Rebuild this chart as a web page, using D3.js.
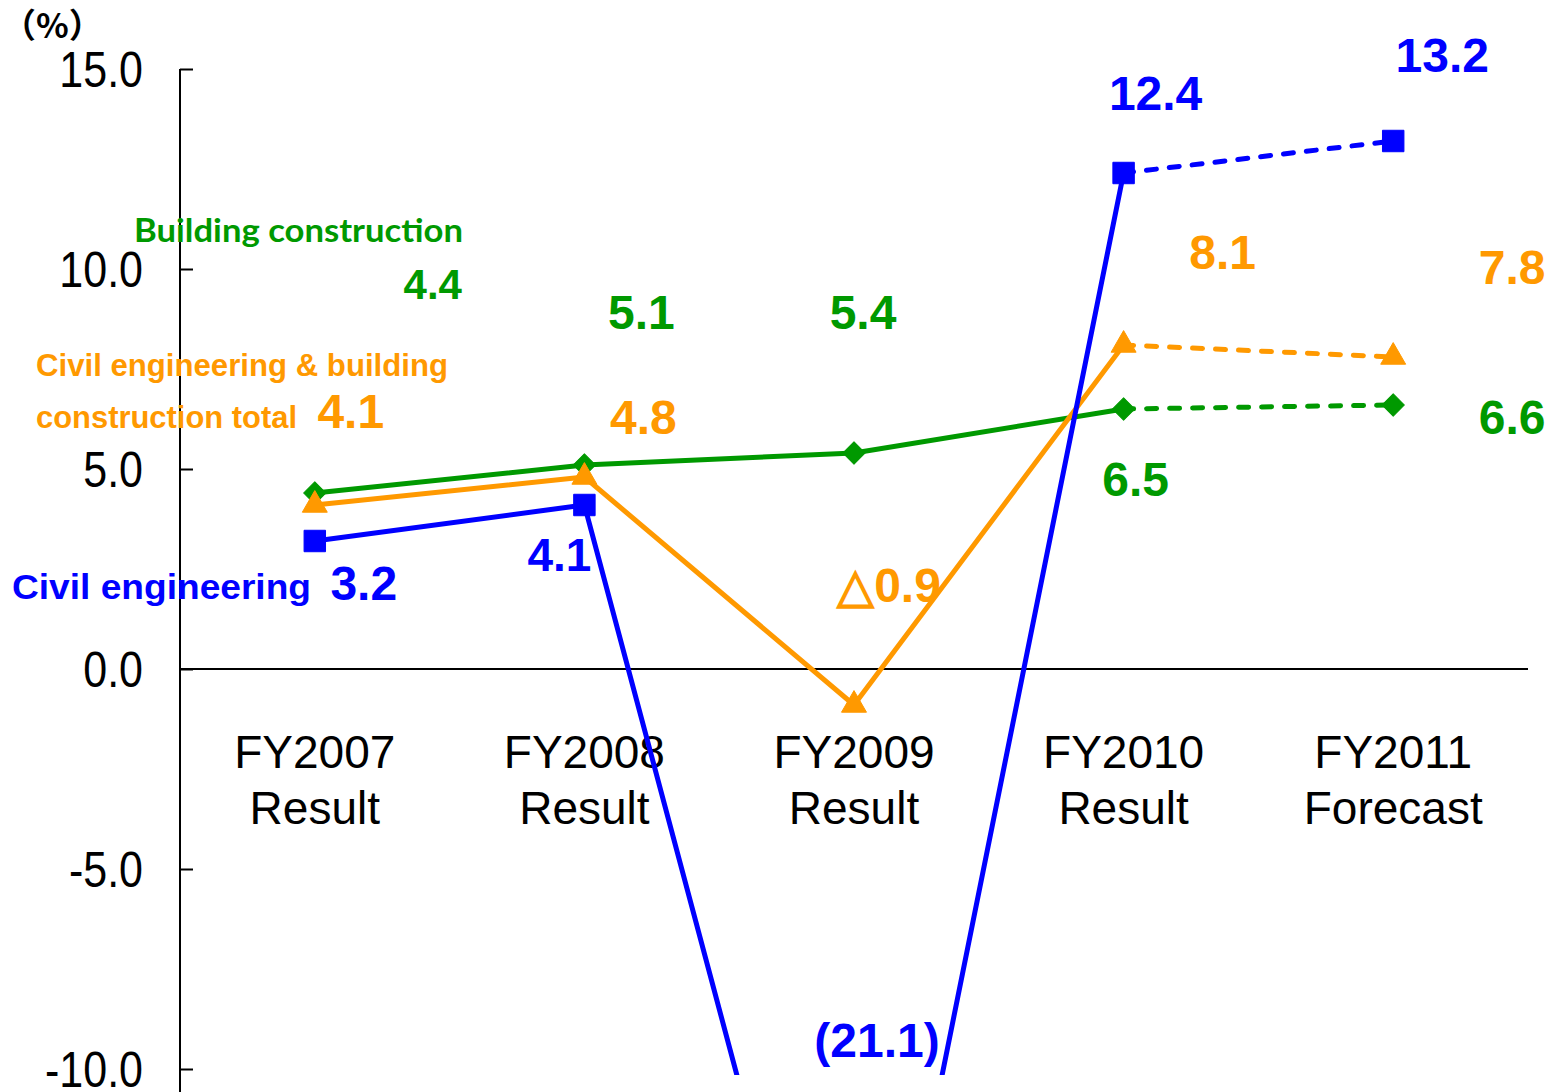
<!DOCTYPE html>
<html><head><meta charset="utf-8">
<script src="https://cdn.jsdelivr.net/npm/d3@7"></script>
<style>body{margin:0;background:#fff}svg{display:block}</style>
</head><body>
<svg id="c" width="1556" height="1092"></svg>
<script>
const categories = ["FY2007|Result","FY2008|Result","FY2009|Result","FY2010|Result","FY2011|Forecast"];
const civilEngineering = [3.2, 4.1, -21.1, 12.4, 13.2];
const totalConstruction = [4.1, 4.8, -0.9, 8.1, 7.8];
const buildingConstruction = [4.4, 5.1, 5.4, 6.5, 6.6];
const civilLabels = ["3.2","4.1","(21.1)","12.4","13.2"];
const totalLabels = ["4.1","4.8","△0.9","8.1","7.8"];
const buildingLabels = ["4.4","5.1","5.4","6.5","6.6"];
const yTicks = [15, 10, 5, 0, -5, -10];

// label layout: offsets relative to each point, and font sizes
const civilOff = [[49,59],[-25,66],[23,-456],[32,-63],[49,-69]];
const totalOff = [[36,-77],[59,-43],[35,-103],[99,-76],[119,-73]];
const buildOff = [[118,-194],[57,-136],[9,-124],[12,87],[119,29]];
const civilSize = [48,46,48,48,48];
const totalSize = [48,48,48,48,48];
const buildSize = [42,48,48,48,48];

const svg = d3.select("#c");
const x = d3.scaleBand().domain(categories).range([180,1528]).padding(0);
const cx = c => x(c) + x.bandwidth()/2;
const y = d3.scaleLinear().domain([-10,15]).range([1069,69]);

svg.append("defs").append("clipPath").attr("id","clip")
  .append("rect").attr("x",0).attr("y",0).attr("width",1556).attr("height",1075);

// y axis
const ya = svg.append("g").attr("transform","translate(180,0)")
  .call(d3.axisLeft(y).tickValues(yTicks).tickSize(-13).tickFormat(d=>d.toFixed(1)));
ya.select(".domain").attr("stroke","#000").attr("stroke-width",2).attr("d","M0,69V1092");
ya.selectAll(".tick line").attr("stroke","#000").attr("stroke-width",2);
ya.selectAll(".tick text").attr("x",0).attr("dy","0.35em")
  .attr("transform","translate(-37,0) scale(0.86,1)")
  .attr("font-family","'Liberation Sans', Arial, sans-serif").attr("font-size",50).attr("fill","#000");

// zero line
svg.append("line").attr("x1",180).attr("x2",1528).attr("y1",y(0)).attr("y2",y(0))
  .attr("stroke","#000").attr("stroke-width",2);

// (%)
svg.append("text").attr("x",2).attr("y",38).text("（%）")
  .attr("font-family","'Noto Sans CJK JP', sans-serif").attr("font-weight","bold").attr("font-size",34).attr("fill","#000");

// category labels
const cat = svg.append("g");
categories.forEach(c => {
  const parts = c.split("|");
  const t = cat.append("text").attr("text-anchor","middle")
    .attr("font-family","'Liberation Sans', Arial, sans-serif").attr("font-size",46).attr("fill","#000");
  t.append("tspan").attr("x",cx(c)).attr("y",768).text(parts[0]);
  t.append("tspan").attr("x",cx(c)).attr("y",824).text(parts[1]);
});

const series = [
  {vals: buildingConstruction, color:"#009900", sym:"diamond", labels: buildingLabels, off: buildOff, size: buildSize},
  {vals: totalConstruction, color:"#FF9900", sym:"triangle", labels: totalLabels, off: totalOff, size: totalSize},
  {vals: civilEngineering, color:"#0000FF", sym:"square", labels: civilLabels, off: civilOff, size: civilSize},
];

const plot = svg.append("g").attr("clip-path","url(#clip)");
const line = d3.line().x(d=>cx(d.c)).y(d=>y(d.v));
series.forEach(s => {
  const pts = categories.map((c,i)=>({c, v:s.vals[i]}));
  plot.append("path").datum(pts.slice(0,4)).attr("d",line)
    .attr("fill","none").attr("stroke",s.color).attr("stroke-width",5).attr("stroke-linejoin","round");
  plot.append("path").datum(pts.slice(3)).attr("d",line)
    .attr("fill","none").attr("stroke",s.color).attr("stroke-width",5)
    .attr("stroke-dasharray","10,13").attr("stroke-linecap","round");
});
series.forEach(s => {
  const pts = categories.map((c,i)=>({c, v:s.vals[i]}));
  let gen, rot = 0;
  if (s.sym==="square") gen = d3.symbol(d3.symbolSquare, 460);
  else if (s.sym==="triangle") gen = d3.symbol(d3.symbolTriangle, 270);
  else { gen = d3.symbol(d3.symbolSquare, 250); rot = 45; }
  plot.selectAll(null).data(pts).enter().append("path")
    .attr("d", gen())
    .attr("transform", d=>`translate(${cx(d.c)},${y(d.v)}) rotate(${rot})`)
    .attr("fill", s.color).attr("stroke", s.color).attr("stroke-width",1).attr("stroke-linejoin","round");
});

// value labels
series.forEach(s => {
  categories.forEach((c,i) => {
    const px = cx(c), py = y(s.vals[i]);
    svg.append("text").attr("x",px+s.off[i][0]).attr("y",py+s.off[i][1])
      .attr("text-anchor","middle").attr("font-family","'Liberation Sans', Arial, sans-serif")
      .attr("font-weight","bold").attr("font-size",s.size[i]).attr("fill",s.color).text(s.labels[i]);
  });
});

// series names
svg.append("text").attr("x",134).attr("y",242).text("Building construction")
  .attr("font-family","Lato, 'Open Sans', sans-serif").attr("font-weight","bold").attr("font-size",32)
  .attr("fill","#009900").attr("textLength",329).attr("lengthAdjust","spacingAndGlyphs");
svg.append("text").attr("x",36).attr("y",376).text("Civil engineering & building")
  .attr("font-family","'Liberation Sans', Arial, sans-serif").attr("font-weight","bold").attr("font-size",31)
  .attr("fill","#FF9900").attr("textLength",412).attr("lengthAdjust","spacingAndGlyphs");
svg.append("text").attr("x",36).attr("y",428).text("construction total")
  .attr("font-family","'Liberation Sans', Arial, sans-serif").attr("font-weight","bold").attr("font-size",31)
  .attr("fill","#FF9900").attr("textLength",261).attr("lengthAdjust","spacingAndGlyphs");
svg.append("text").attr("x",12).attr("y",599).text("Civil engineering")
  .attr("font-family","'Liberation Sans', Arial, sans-serif").attr("font-weight","bold").attr("font-size",35)
  .attr("fill","#0000FF").attr("textLength",299).attr("lengthAdjust","spacingAndGlyphs");
</script>
</body></html>
